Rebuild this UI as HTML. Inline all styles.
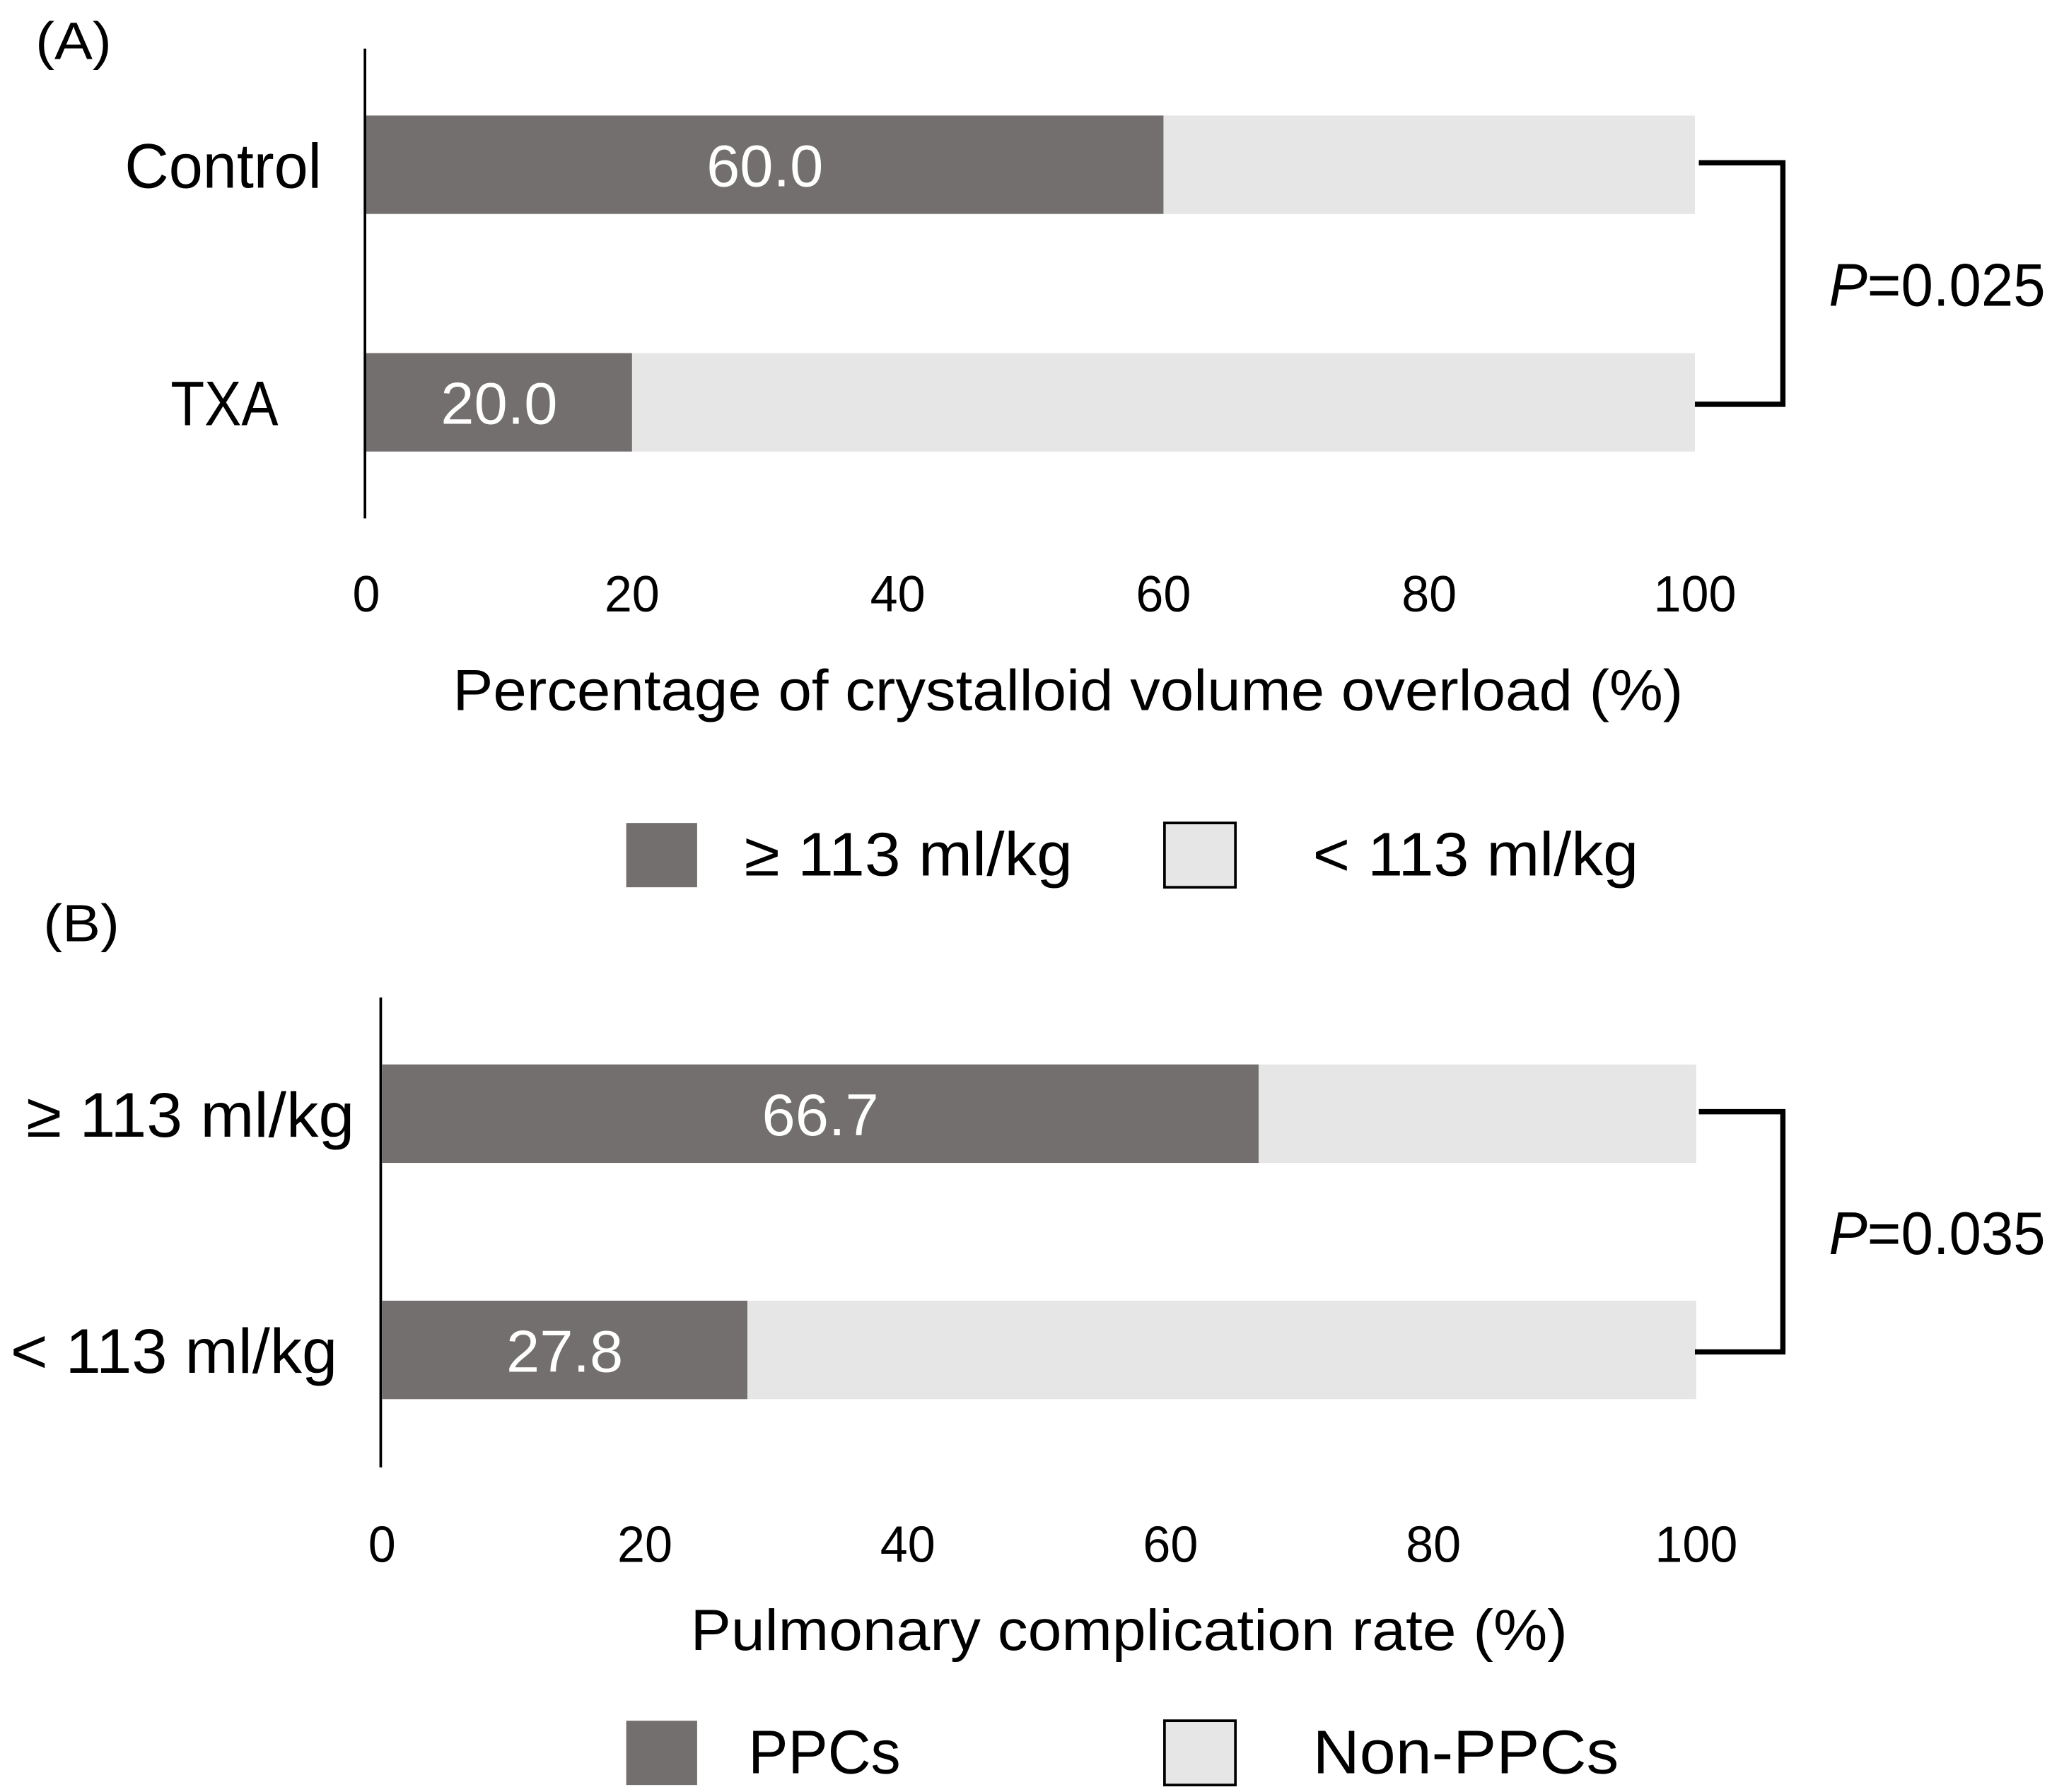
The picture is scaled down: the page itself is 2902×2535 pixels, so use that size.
<!DOCTYPE html>
<html><head><meta charset="utf-8"><style>html,body{margin:0;padding:0;background:#fff}svg{display:block}</style></head>
<body>
<svg id="chart" width="2902" height="2535" viewBox="0 0 1563 1365.3" xmlns="http://www.w3.org/2000/svg" font-family="Liberation Sans, sans-serif"></svg>
<script>
const catsA = ["Control", "TXA"];
const valsA = [60.0, 20.0];
const catsB = ["≥ 113 ml/kg", "< 113 ml/kg"];
const valsB = [66.7, 27.8];
const ticks = [0, 20, 40, 60, 80, 100];
const pA = "0.025", pB = "0.035";
const NS = "http://www.w3.org/2000/svg";
const svg = document.getElementById("chart");
function el(tag, attrs, text) {
  const e = document.createElementNS(NS, tag);
  for (const k in attrs) e.setAttribute(k, attrs[k]);
  if (text !== undefined) e.textContent = text;
  svg.appendChild(e);
  return e;
}
const DARK = "#736f6e", LIGHT = "#e6e6e6";
const AD = "spacingAndGlyphs";
function panel(o) {
  const x = v => o.x0 + (o.x1 - o.x0) * v / 100;
  let t = el("text", {x: o.labelX, y: o.labelY, "font-size": 40, textLength: 58, lengthAdjust: AD}, o.letter);
  
  
  let ax = el("line", {x1: o.axX, x2: o.axX, y1: o.axTop, y2: o.axBot, stroke: "#000", "stroke-width": 2});
  
  
  o.cats.forEach((c, i) => {
    const y = o.barY[i];
    let r1 = el("rect", {x: x(0), y: y, width: x(100) - x(0), height: 75, fill: LIGHT});
    
    
    let r2 = el("rect", {x: x(0), y: y, width: x(o.vals[i]) - x(0), height: 75, fill: DARK});
    
    
    let v = el("text", {x: (x(0) + x(o.vals[i])) / 2, y: y + 54, "font-size": 45, fill: "#fff", "text-anchor": "middle", textLength: 89, lengthAdjust: AD}, o.vals[i].toFixed(1));
    
    
    let cl = el("text", {x: o.catX[i] - o.catW[i], y: y + 55, "font-size": 48, textLength: o.catW[i], lengthAdjust: AD}, c);
    
    
  });
  ticks.forEach(tk => {
    const w = String(tk).length * 21;
    let tl = el("text", {x: x(tk) - w / 2, y: o.tickY, "font-size": 39, textLength: w, lengthAdjust: AD}, tk);
    
    
  });
  let ti = el("text", {x: o.titleX, y: o.titleY, "font-size": 44, textLength: o.titleW, lengthAdjust: AD}, o.title);
  
  
  const yA = o.barY[0] + 36, yB = o.barY[1] + 39;
  let br = el("path", {d: `M1294 ${yA} H1358 V${yB} H1291`, fill: "none", stroke: "#000", "stroke-width": 4});
  
  
  let pt = el("text", {x: 1393, y: (yA + yB) / 2 + 17, "font-size": 46, textLength: 165, lengthAdjust: AD});
  
  
  const ts = document.createElementNS(NS, "tspan"); ts.setAttribute("font-style", "italic"); ts.textContent = "P"; pt.appendChild(ts);
  pt.appendChild(document.createTextNode("=" + o.p));
  o.legend.forEach((lg, i) => {
    const lx = [477, 887][i];
    let sw = el("rect", {x: lx, y: o.legY, width: 54, height: 49, fill: i ? LIGHT : DARK, stroke: i ? "#000" : "none", "stroke-width": 2});
    
    
    let lt = el("text", {x: o.legX[i], y: o.legY + 40, "font-size": 47, textLength: o.legW[i], lengthAdjust: AD}, lg);
    
    
  });
}
panel({letter: "(A)", labelX: 27, labelY: 45, axX: 278, axTop: 37, axBot: 395, x0: 279, x1: 1291,
  cats: catsA, vals: valsA, barY: [88, 269], catX: [245, 212], catW: [150, 82], tickY: 466,
  title: "Percentage of crystalloid volume overload (%)", titleX: 345, titleY: 541, titleW: 937,
  p: pA, legend: ["≥ 113 ml/kg", "< 113 ml/kg"], legX: [567, 1000], legW: [250, 248], legY: 627});
panel({letter: "(B)", labelX: 33, labelY: 717, axX: 290, axTop: 760, axBot: 1118, x0: 291, x1: 1292,
  cats: catsB, vals: valsB, barY: [811, 991], catX: [270, 257], catW: [250, 249], tickY: 1190,
  title: "Pulmonary complication rate (%)", titleX: 526, titleY: 1257, titleW: 668,
  p: pB, legend: ["PPCs", "Non-PPCs"], legX: [570, 1000], legW: [116, 233], legY: 1311});
</script>
</body></html>
